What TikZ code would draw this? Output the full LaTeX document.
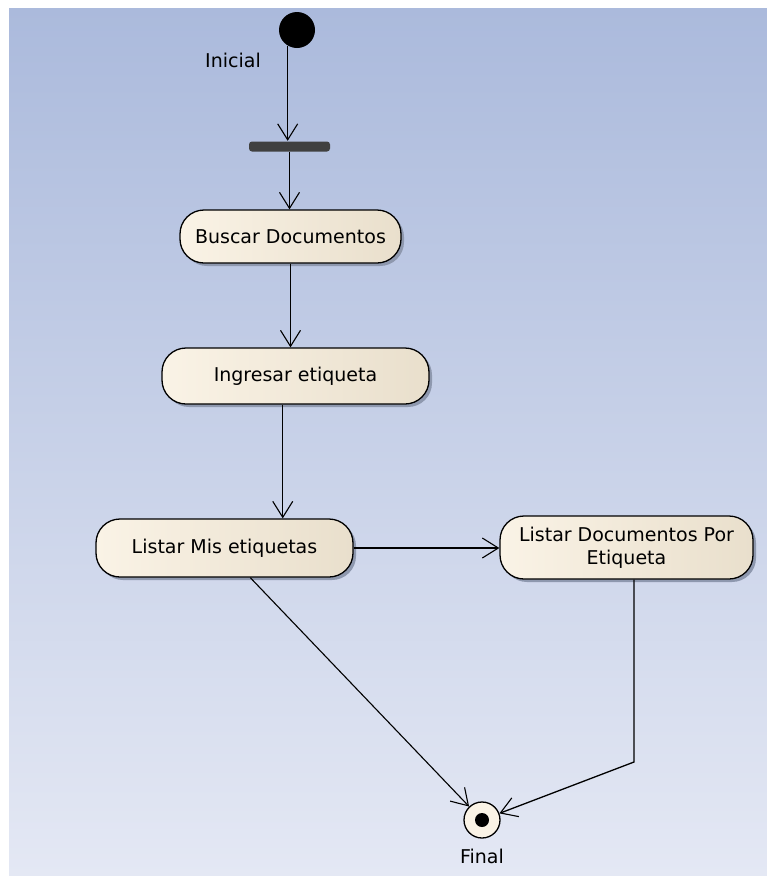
\documentclass[tikz,border=0pt]{standalone}
\usepackage{fontspec}
\setmainfont{DejaVu Sans}
\usetikzlibrary{arrows.meta, shadows}

\definecolor{bgtop}{HTML}{ABBADC}
\definecolor{bgbot}{HTML}{E4E8F4}
\definecolor{creamL}{HTML}{FAF3E6}
\definecolor{creamR}{HTML}{E9DFCC}
\definecolor{forkgray}{HTML}{404040}
\definecolor{shadowgray}{HTML}{8E98AE}

\begin{document}
\begin{tikzpicture}[x=1pt, y=1pt, line width=1.3pt,
    >={Straight Barb[length=16pt, width=20pt, line width=1.1pt]},
    every node/.style={font=\fontsize{19}{23}\selectfont},
    action/.style={draw=black, line width=1.3pt, rounded corners=24pt,
        left color=creamL, right color=creamR, align=center, inner sep=0pt,
        drop shadow={shadow xshift=3pt, shadow yshift=-3pt, fill=shadowgray, opacity=1}},
    lbl/.style={inner sep=0pt}]
    % Background
    \useasboundingbox (0,0) rectangle (767,-876);
    \fill[white] (0,0) rectangle (767,-876);
    \shade[top color=bgtop, bottom color=bgbot] (9,-8) rectangle (767,-876);

    % Start, fork and final
    \node[circle, fill=black, minimum size=36pt, inner sep=0pt] (init) at (297,-30) {};
    \node[lbl] (initlbl) at (233,-60) {Inicial};
    \node[rectangle, rounded corners=3pt, fill=forkgray, minimum width=81pt,
        minimum height=10pt, inner sep=0pt] (fork) at (289.5,-146.5) {};
    \node[circle, draw=black, line width=1.3pt, fill=creamL, minimum size=36pt,
        inner sep=0pt] (final) at (482,-820) {};
    \node[circle, fill=black, minimum size=14pt, inner sep=0pt] (finaldot) at (final) {};
    \node[lbl] (finallbl) at (482,-856) {Final};

    % Actions
    \node[action, minimum width=221pt, minimum height=53pt] (buscar) at (290.5,-236.5) {Buscar Documentos};
    \node[action, minimum width=267pt, minimum height=56pt] (ingresar) at (295.5,-376) {Ingresar etiqueta};
    \node[action, minimum width=257pt, minimum height=58pt] (listmis) at (224.5,-548) {Listar Mis etiquetas};
    \node[action, minimum width=253pt, minimum height=63pt] (listdocs) at (626.5,-547.5) {Listar Documentos Por\\Etiqueta};
    \coordinate (bend) at (634,-762);

    % Flows
    \draw[->] (init.240) -- (init.240 |- fork.north);
    \draw[->] (fork.south) -- (fork.south |- buscar.north);
    \draw[->] (buscar.south) -- (buscar.south |- ingresar.north);
    \draw[->] (ingresar.246) -- (ingresar.246 |- listmis.north);
    \draw[->] (listmis.east) -- (listmis.east -| listdocs.west);
    \draw[->, line width=1.1pt] (listmis.311) -- (final);
    \draw[->] (bend |- listdocs.south) -- (bend) -- (final);
\end{tikzpicture}
\end{document}
